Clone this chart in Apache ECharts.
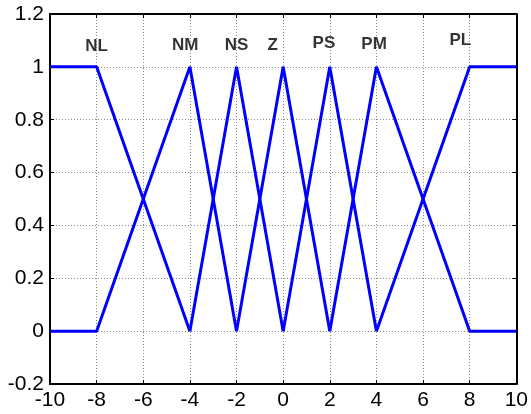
<!DOCTYPE html>
<html><head><meta charset="utf-8">
<script src="https://cdn.jsdelivr.net/npm/echarts@6/dist/echarts.min.js"></script>
<style>html,body{margin:0;padding:0;background:#fff}#c{width:531px;height:414px}</style>
</head><body><div id="c"></div>
<script>
// membership functions: [x, mu] vertices
const NL = [[-10,1],[-8,1],[-4,0]];
const NM = [[-10,0],[-8,0],[-4,1],[-2,0]];
const NS = [[-4,0],[-2,1],[0,0]];
const Z  = [[-2,0],[0,1],[2,0]];
const PS = [[0,0],[2,1],[4,0]];
const PM = [[2,0],[4,1],[8,0],[10,0]];
const PL = [[4,0],[8,1],[10,1]];
const mfNames = ['NL','NM','NS','Z','PS','PM','PL'];
const mfData = [NL,NM,NS,Z,PS,PM,PL];
// label positions (x, y) of the names
const labelX = [-8.0,-4.2,-2.0,-0.45,1.75,3.9,7.6];
const labelY = [1.076,1.083,1.083,1.083,1.09,1.085,1.1];
const xMin=-10, xMax=10, xStep=2;
const yMin=-0.2, yMax=1.2, yStep=0.2;

const font = 'Liberation Sans, Arial, sans-serif';
const series = mfData.map((d,i)=>({
  name: mfNames[i], type:'line', data:d, symbol:'none',
  lineStyle:{color:'#0000ff', width:3}, animation:false, z:3
}));
series.push({
  type:'scatter', symbolSize:0, animation:false, z:4,
  data: mfNames.map((n,i)=>({value:[labelX[i],labelY[i]], name:n})),
  label:{show:true, position:'inside', formatter:p=>p.name, color:'#000',
    fontFamily:font, fontWeight:'bold', fontSize:17}
});
const chart = echarts.init(document.getElementById('c'));
const splitLine = {show:true, lineStyle:{color:'#8a8a8a', type:[1,2], width:1}};
const boxLine = {show:true, onZero:false, lineStyle:{color:'#000', width:2}};
const tick = {show:true, inside:true, length:4, lineStyle:{color:'#000'}};
chart.setOption({
  animation:false,
  grid:{left:50, right:14, top:14, bottom:30},
  xAxis:[{type:'value', min:xMin, max:xMax, interval:xStep,
    axisLine:boxLine, axisTick:tick,
    axisLabel:{color:'#000', fontSize:21, fontFamily:font, margin:6},
    splitLine},
   {type:'value', position:'top', min:xMin, max:xMax, interval:xStep,
    axisLine:boxLine, axisTick:tick,
    axisLabel:{show:false}, splitLine:{show:false}}],
  yAxis:[{type:'value', min:yMin, max:yMax, interval:yStep,
    axisLine:boxLine, axisTick:tick,
    axisLabel:{color:'#000', fontSize:21, fontFamily:font, margin:6,
      formatter:v=>String(Math.round(v*10)/10)},
    splitLine},
   {type:'value', position:'right', min:yMin, max:yMax, interval:yStep,
    axisLine:boxLine, axisTick:tick,
    axisLabel:{show:false}, splitLine:{show:false}}],
  series
});
</script></body></html>
